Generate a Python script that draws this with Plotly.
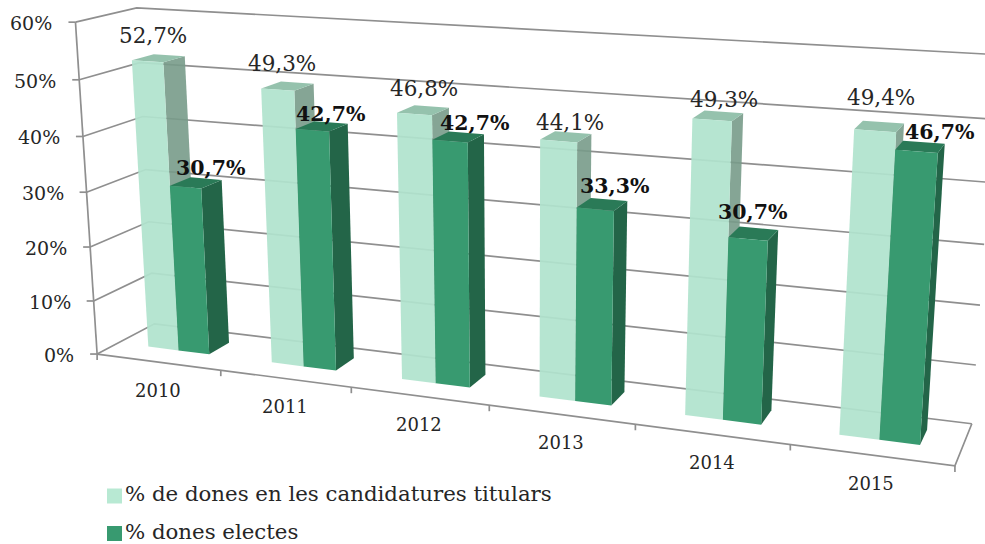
import numpy as np
import plotly.graph_objects as go

# ---------- data ----------
years = ["2010", "2011", "2012", "2013", "2014", "2015"]
candidates = [52.7, 49.3, 46.8, 44.1, 49.3, 49.4]
elected = [30.7, 42.7, 42.7, 33.3, 30.7, 46.7]
value_ticks = [0, 10, 20, 30, 40, 50, 60]
series_names = ["% de dones en les candidatures titulars", "% dones electes"]

# ---------- 3D projection (category, depth, value) -> page pixels ----------
Z_MAX = 60.0
N = len(years)
anchors = [
    ((0, 0, 0), (97, 353)), ((0, 0, 10), (94, 300)), ((0, 0, 20), (91, 246)), ((0, 0, 30), (87, 192)),
    ((0, 0, 40), (83, 136)), ((0, 0, 50), (80, 79)), ((0, 0, 60), (75, 22)),
    ((0, 1, 0), (154, 323)), ((0, 1, 10), (152, 273)), ((0, 1, 20), (149, 222)), ((0, 1, 30), (146, 170)),
    ((0, 1, 40), (143, 117)), ((0, 1, 50), (139, 63)), ((0, 1, 60), (136, 8)),
    ((1, 0, 0), (220, 372)), ((2, 0, 0), (351, 390)), ((3, 0, 0), (489, 406)),
    ((4, 0, 0), (635, 425)), ((5, 0, 0), (790, 445)), ((6, 0, 0), (955, 464)),
    ((6, 1, 0), (972, 422)), ((6, 1, 40), (990, 183)), ((6, 1, 50), (993, 119)), ((6, 1, 60), (996, 55)),
]
A, b = [], []
for (X, Y, Z), (px, py) in anchors:
    A.append([X, Y, Z, 1, 0, 0, 0, 0, -px * X, -px * Y, -px * Z]); b.append(px)
    A.append([0, 0, 0, 0, X, Y, Z, 1, -py * X, -py * Y, -py * Z]); b.append(py)
p = np.linalg.lstsq(np.array(A, float), np.array(b, float), rcond=None)[0]
P = np.append(p, 1.0).reshape(3, 4)


def proj(cat, depth, value):
    h = P @ np.array([cat, depth, value, 1.0])
    return float(h[0] / h[2]), float(h[1] / h[2])


# ---------- styles ----------
FONT = "DejaVu Serif"
TXT = "#262626"
GRID = "#8f8f8f"
LIGHT = dict(front="rgba(176,227,205,0.93)", side="rgba(120,155,137,0.90)", top="rgba(146,192,170,0.97)")
DARK = dict(front="#389a70", side="#236548", top="#2a7a57")
BAR_L, BAR_M, BAR_R = 0.25, 0.50, 0.75
D0, D1 = 0.36, 0.73
LABEL_DEPTH = 0.51
# nudges of the value labels from their default spot above each bar, in pixels
LIGHT_NUDGE = [(-3, -23), (-4, -23), (2, -22), (5, -15), (7, -17), (2, -30)]
DARK_NUDGE = [(17, -16), (10, -13), (18, -15), (14, -19), (0, -23), (20, -16)]

fig = go.Figure()


def line(pts, width=1.7, color=GRID):
    xs, ys = [], []
    for q in pts:
        if q is None:
            xs.append(None); ys.append(None)
        else:
            xs.append(q[0]); ys.append(q[1])
    fig.add_trace(go.Scatter(x=xs, y=ys, mode="lines", line=dict(color=color, width=width),
                             hoverinfo="skip", showlegend=False))


def face(pts, color):
    xs = [q[0] for q in pts] + [pts[0][0]]
    ys = [q[1] for q in pts] + [pts[0][1]]
    fig.add_trace(go.Scatter(x=xs, y=ys, mode="lines", fill="toself", fillcolor=color,
                             line=dict(width=0), hoverinfo="skip", showlegend=False))


def bar(cat0, cat1, value, st):
    face([proj(cat1, D0, 0), proj(cat1, D1, 0), proj(cat1, D1, value), proj(cat1, D0, value)], st["side"])
    face([proj(cat0, D0, value), proj(cat1, D0, value), proj(cat1, D1, value), proj(cat0, D1, value)], st["top"])
    face([proj(cat0, D0, 0), proj(cat1, D0, 0), proj(cat1, D0, value), proj(cat0, D0, value)], st["front"])


# gridlines on the side and back walls
grid = []
for v in value_ticks:
    grid += [proj(0, 0, v), proj(0, 1, v), proj(N, 1, v), None]
line(grid)
# axes and floor
line([proj(0, 0, 0), proj(0, 0, Z_MAX)])
line([proj(0, 0, 0), proj(N, 0, 0), proj(N, 1, 0)])
# tick marks
ticks = []
for v in value_ticks:
    x0, y0 = proj(0, 0, v)
    ticks += [(x0, y0), (x0 - 7, y0), None]
for i in range(N + 1):
    x0, y0 = proj(i, 0, 0)
    ticks += [(x0, y0), (x0, y0 + 6), None]
line(ticks)

# bars
for i in range(N):
    bar(i + BAR_L, i + BAR_M, candidates[i], LIGHT)
    bar(i + BAR_M, i + BAR_R, elected[i], DARK)

ann = []


def text(x, y, s, size, xanchor="center", bold=False, color=TXT):
    ann.append(dict(x=x, y=y, xref="x", yref="y", text=f"<b>{s}</b>" if bold else s, showarrow=False,
                    xanchor=xanchor, yanchor="middle", font=dict(family=FONT, size=size, color=color)))


def pct(v):
    return f"{v:.1f}%".replace(".", ",")


for v in value_ticks:
    x0, y0 = proj(0, 0, v)
    text(x0 - 21, y0 + 1, f"{v}%", 19, xanchor="right")
for i, y in enumerate(years):
    x0, y0 = proj(i + 0.5, 0, 0)
    text(x0, y0 + 28, y, 18)

# value labels sit above each bar top
for i in range(N):
    x0, y0 = proj(i + (BAR_L + BAR_M) / 2, LABEL_DEPTH, candidates[i])
    text(x0 + LIGHT_NUDGE[i][0], y0 + LIGHT_NUDGE[i][1], pct(candidates[i]), 21.5)
    x0, y0 = proj(i + (BAR_M + BAR_R) / 2, LABEL_DEPTH, elected[i])
    text(x0 + DARK_NUDGE[i][0], y0 + DARK_NUDGE[i][1], pct(elected[i]), 20.5, bold=True, color="#111111")

# legend
leg_rows = [496, 533.5]
leg_colors = ["#b8e9d3", "#389a70"]
for name, c, ry in zip(series_names, leg_colors, leg_rows):
    fig.add_trace(go.Scatter(x=[114.5], y=[ry], mode="markers+text", name=name, text=[name],
                             textposition="middle right", textfont=dict(family=FONT, size=21.3, color=TXT),
                             marker=dict(symbol="square", size=15, color=c), hoverinfo="skip", showlegend=False,
                             cliponaxis=False))

fig.update_layout(
    width=985, height=544, margin=dict(l=0, r=0, t=0, b=0), paper_bgcolor="white", plot_bgcolor="white",
    xaxis=dict(range=[0, 985], visible=False), yaxis=dict(range=[544, 0], visible=False),
    annotations=ann, showlegend=False,
)
fig.write_html("out.html", config=dict(displayModeBar=False),
               post_script="document.body.style.margin='0';")
